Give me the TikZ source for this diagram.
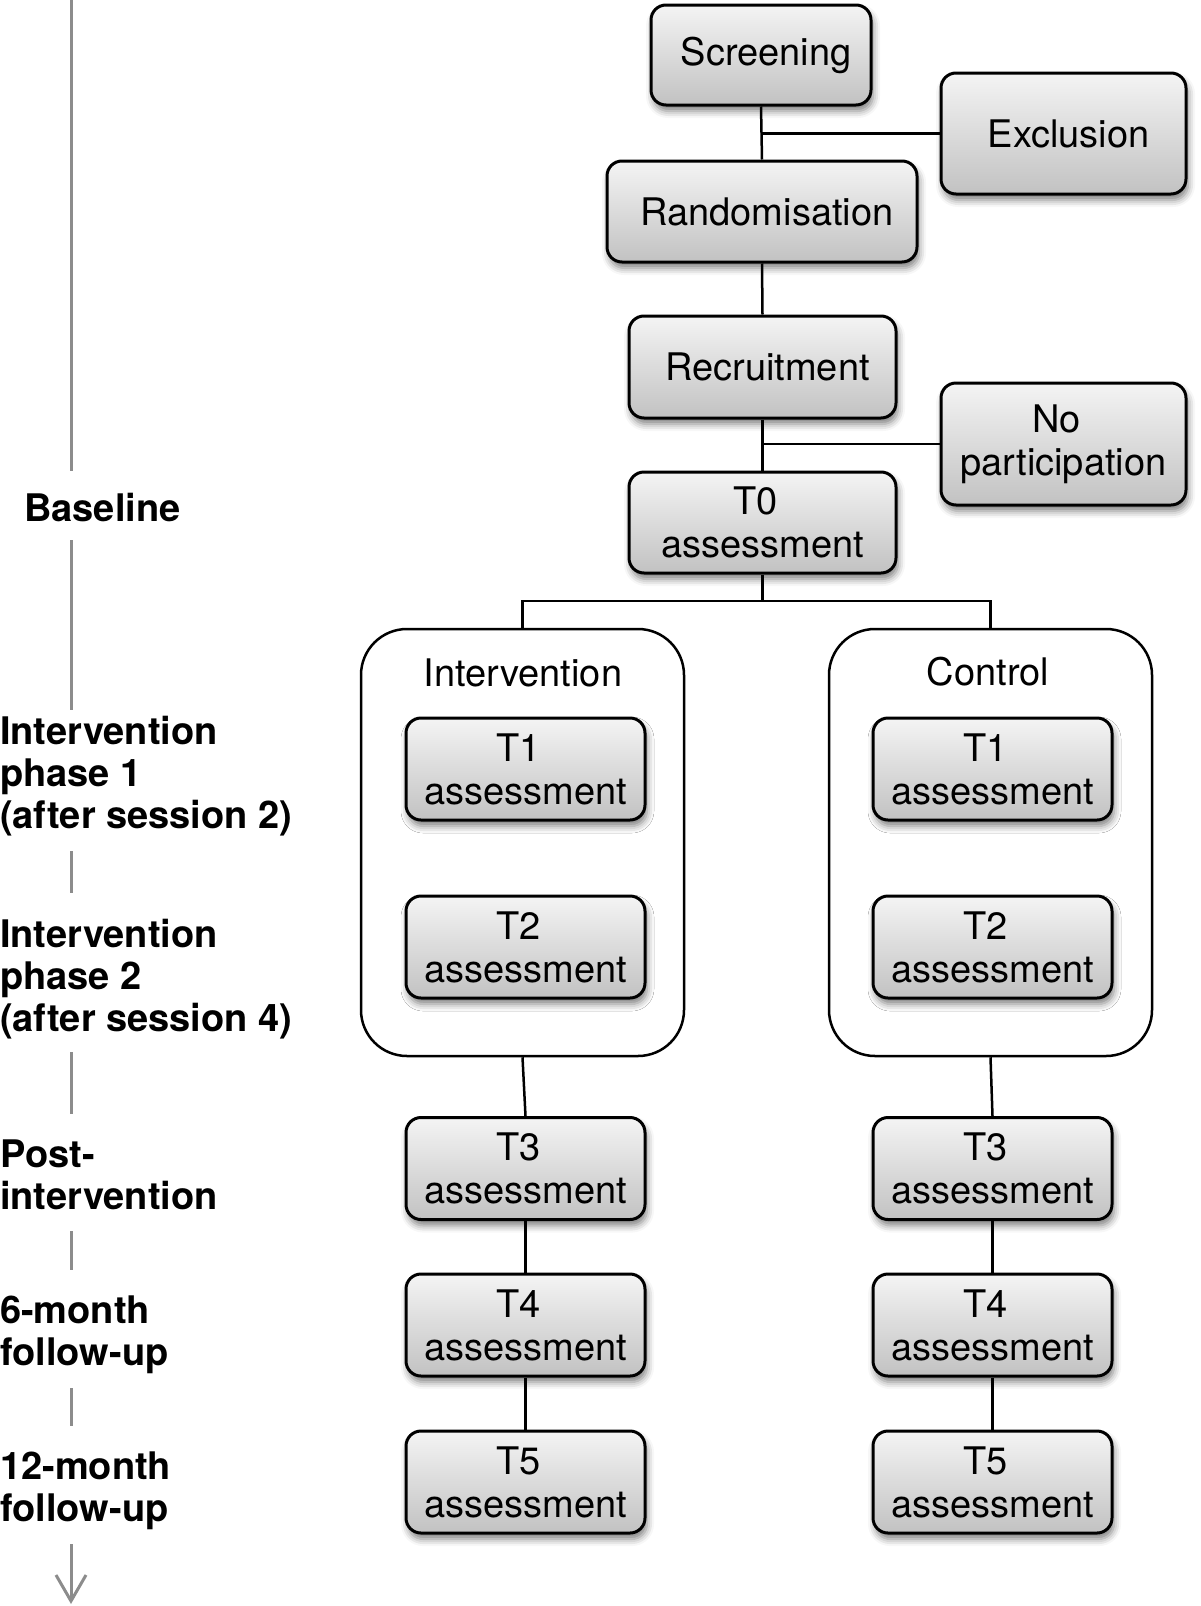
\documentclass[tikz,border=0pt]{standalone}
\usepackage{fontspec}
\setmainfont{TeX Gyre Heros}
\usetikzlibrary{shadows.blur,arrows.meta,calc}
\definecolor{boxtop}{RGB}{244,244,244}
\definecolor{boxbot}{RGB}{194,194,194}
\definecolor{tline}{RGB}{140,140,140}
\newcommand{\firstln}[1]{#1\hspace*{14pt}}
\newcommand{\oneln}[1]{\hspace*{10pt}#1}
\begin{document}
\begin{tikzpicture}[x=1pt,y=-1pt,
  box/.style={draw=black, line width=3pt, rounded corners=15pt,
    top color=boxtop, bottom color=boxbot,
    blur shadow={shadow xshift=2pt,shadow yshift=-6pt,shadow blur radius=7pt,shadow opacity=50},
    align=center, inner sep=0pt, font=\fontsize{38}{43}\selectfont},
  tbox/.style={box, minimum width=239pt, minimum height=102pt},
  grp/.style={draw=black, line width=2.5pt, rounded corners=46pt, fill=white,
    minimum width=323pt, minimum height=427pt, inner sep=0pt},
  glabel/.style={inner sep=0pt, font=\fontsize{38}{43}\selectfont},
  lbl/.style={anchor=north west, inner sep=0pt, align=left,
    font=\bfseries\fontsize{38}{42}\selectfont},
  conn/.style={draw=black, line width=2.5pt},
  tl/.style={draw=tline, line width=3pt}]
\useasboundingbox (0,0) rectangle (1200,1606);

% top chain
\node[box, minimum width=220pt, minimum height=100pt] (scr) at (761,55) {\oneln{Screening}};
\node[box, minimum width=245pt, minimum height=121pt] (excl) at (1063.5,133.5) {\oneln{Exclusion}};
\node[box, minimum width=310pt, minimum height=101pt] (rand) at (762,211.5) {\oneln{Randomisation}};
\node[box, minimum width=267pt, minimum height=102pt] (rec) at (762.5,367) {\oneln{Recruitment}};
\node[box, minimum width=245pt, minimum height=122pt] (np) at (1063.5,444) {\firstln{No}\\participation};
\node[box, minimum width=267pt, minimum height=101pt] (t0) at (762.5,522.5) {\firstln{T0}\\assessment};

% groups
\node[grp] (intv) at (522.5,842.5) {};
\node[grp] (ctrl) at (990.5,842.5) {};
\node[glabel] (intvl) at (523,673) {Intervention};
\node[glabel] (ctrll) at (988,672) {Control};

\node[tbox] (i1) at (525.5,769) {\firstln{T1}\\assessment};
\node[tbox] (i2) at (525.5,947) {\firstln{T2}\\assessment};
\node[tbox] (c1) at (992.5,769) {\firstln{T1}\\assessment};
\node[tbox] (c2) at (992.5,947) {\firstln{T2}\\assessment};

\node[tbox] (i3) at (525.5,1168.5) {\firstln{T3}\\assessment};
\node[tbox] (i4) at (525.5,1325) {\firstln{T4}\\assessment};
\node[tbox] (i5) at (525.5,1482) {\firstln{T5}\\assessment};
\node[tbox] (c3) at (992.5,1168.5) {\firstln{T3}\\assessment};
\node[tbox] (c4) at (992.5,1325) {\firstln{T4}\\assessment};
\node[tbox] (c5) at (992.5,1482) {\firstln{T5}\\assessment};

% connectors
\draw[conn] (scr.south) -- (rand.north);
\draw[conn] (excl.west) -- (excl.west -| scr.south);
\draw[conn] (rand.south) -- (rec.north);
\draw[conn] (rec.south) -- (t0.north);
\draw[conn] (np.west) -- (np.west -| rec.south);
\coordinate (split) at (762.5,601);
\draw[conn] (t0.south) -- (split) -| (intv.north);
\draw[conn] (split) -| (ctrl.north);
\draw[conn] (intv.south) -- (i3.north);
\draw[conn] (i3.south) -- (i4.north);
\draw[conn] (i4.south) -- (i5.north);
\draw[conn] (ctrl.south) -- (c3.north);
\draw[conn] (c3.south) -- (c4.north);
\draw[conn] (c4.south) -- (c5.north);

% timeline labels
\node[lbl] (lb0) at (24,492.7) {Baseline};
\node[lbl] (lb1) at (0,715.7) {Intervention\\phase 1\\(after session 2)};
\node[lbl] (lb2) at (0,918.7) {Intervention\\phase 2\\(after session 4)};
\node[lbl] (lb3) at (0,1139.7) {Post-\\intervention};
\node[lbl] (lb4) at (0,1295.7) {6-month\\follow-up};
\node[lbl] (lb5) at (0,1451.7) {12-month\\follow-up};

% timeline
\coordinate (a0) at (71,0);    \coordinate (a1) at (71,471);
\coordinate (b0) at (71,540);  \coordinate (b1) at (71,710);
\coordinate (c0) at (71,851);  \coordinate (c1) at (71,893);
\coordinate (d0) at (71,1052); \coordinate (d1) at (71,1114);
\coordinate (e0) at (71,1231); \coordinate (e1) at (71,1270);
\coordinate (f0) at (71,1388); \coordinate (f1) at (71,1426);
\coordinate (g0) at (71,1544); \coordinate (g1) at (71,1604);
\draw[tl] (a0) -- (a1);
\draw[tl] (b0) -- (b1);
\draw[tl] (c0) -- (c1);
\draw[tl] (d0) -- (d1);
\draw[tl] (e0) -- (e1);
\draw[tl] (f0) -- (f1);
\draw[tl, -{Straight Barb[length=26pt,width=30pt]}] (g0) -- (g1);
\end{tikzpicture}
\end{document}
